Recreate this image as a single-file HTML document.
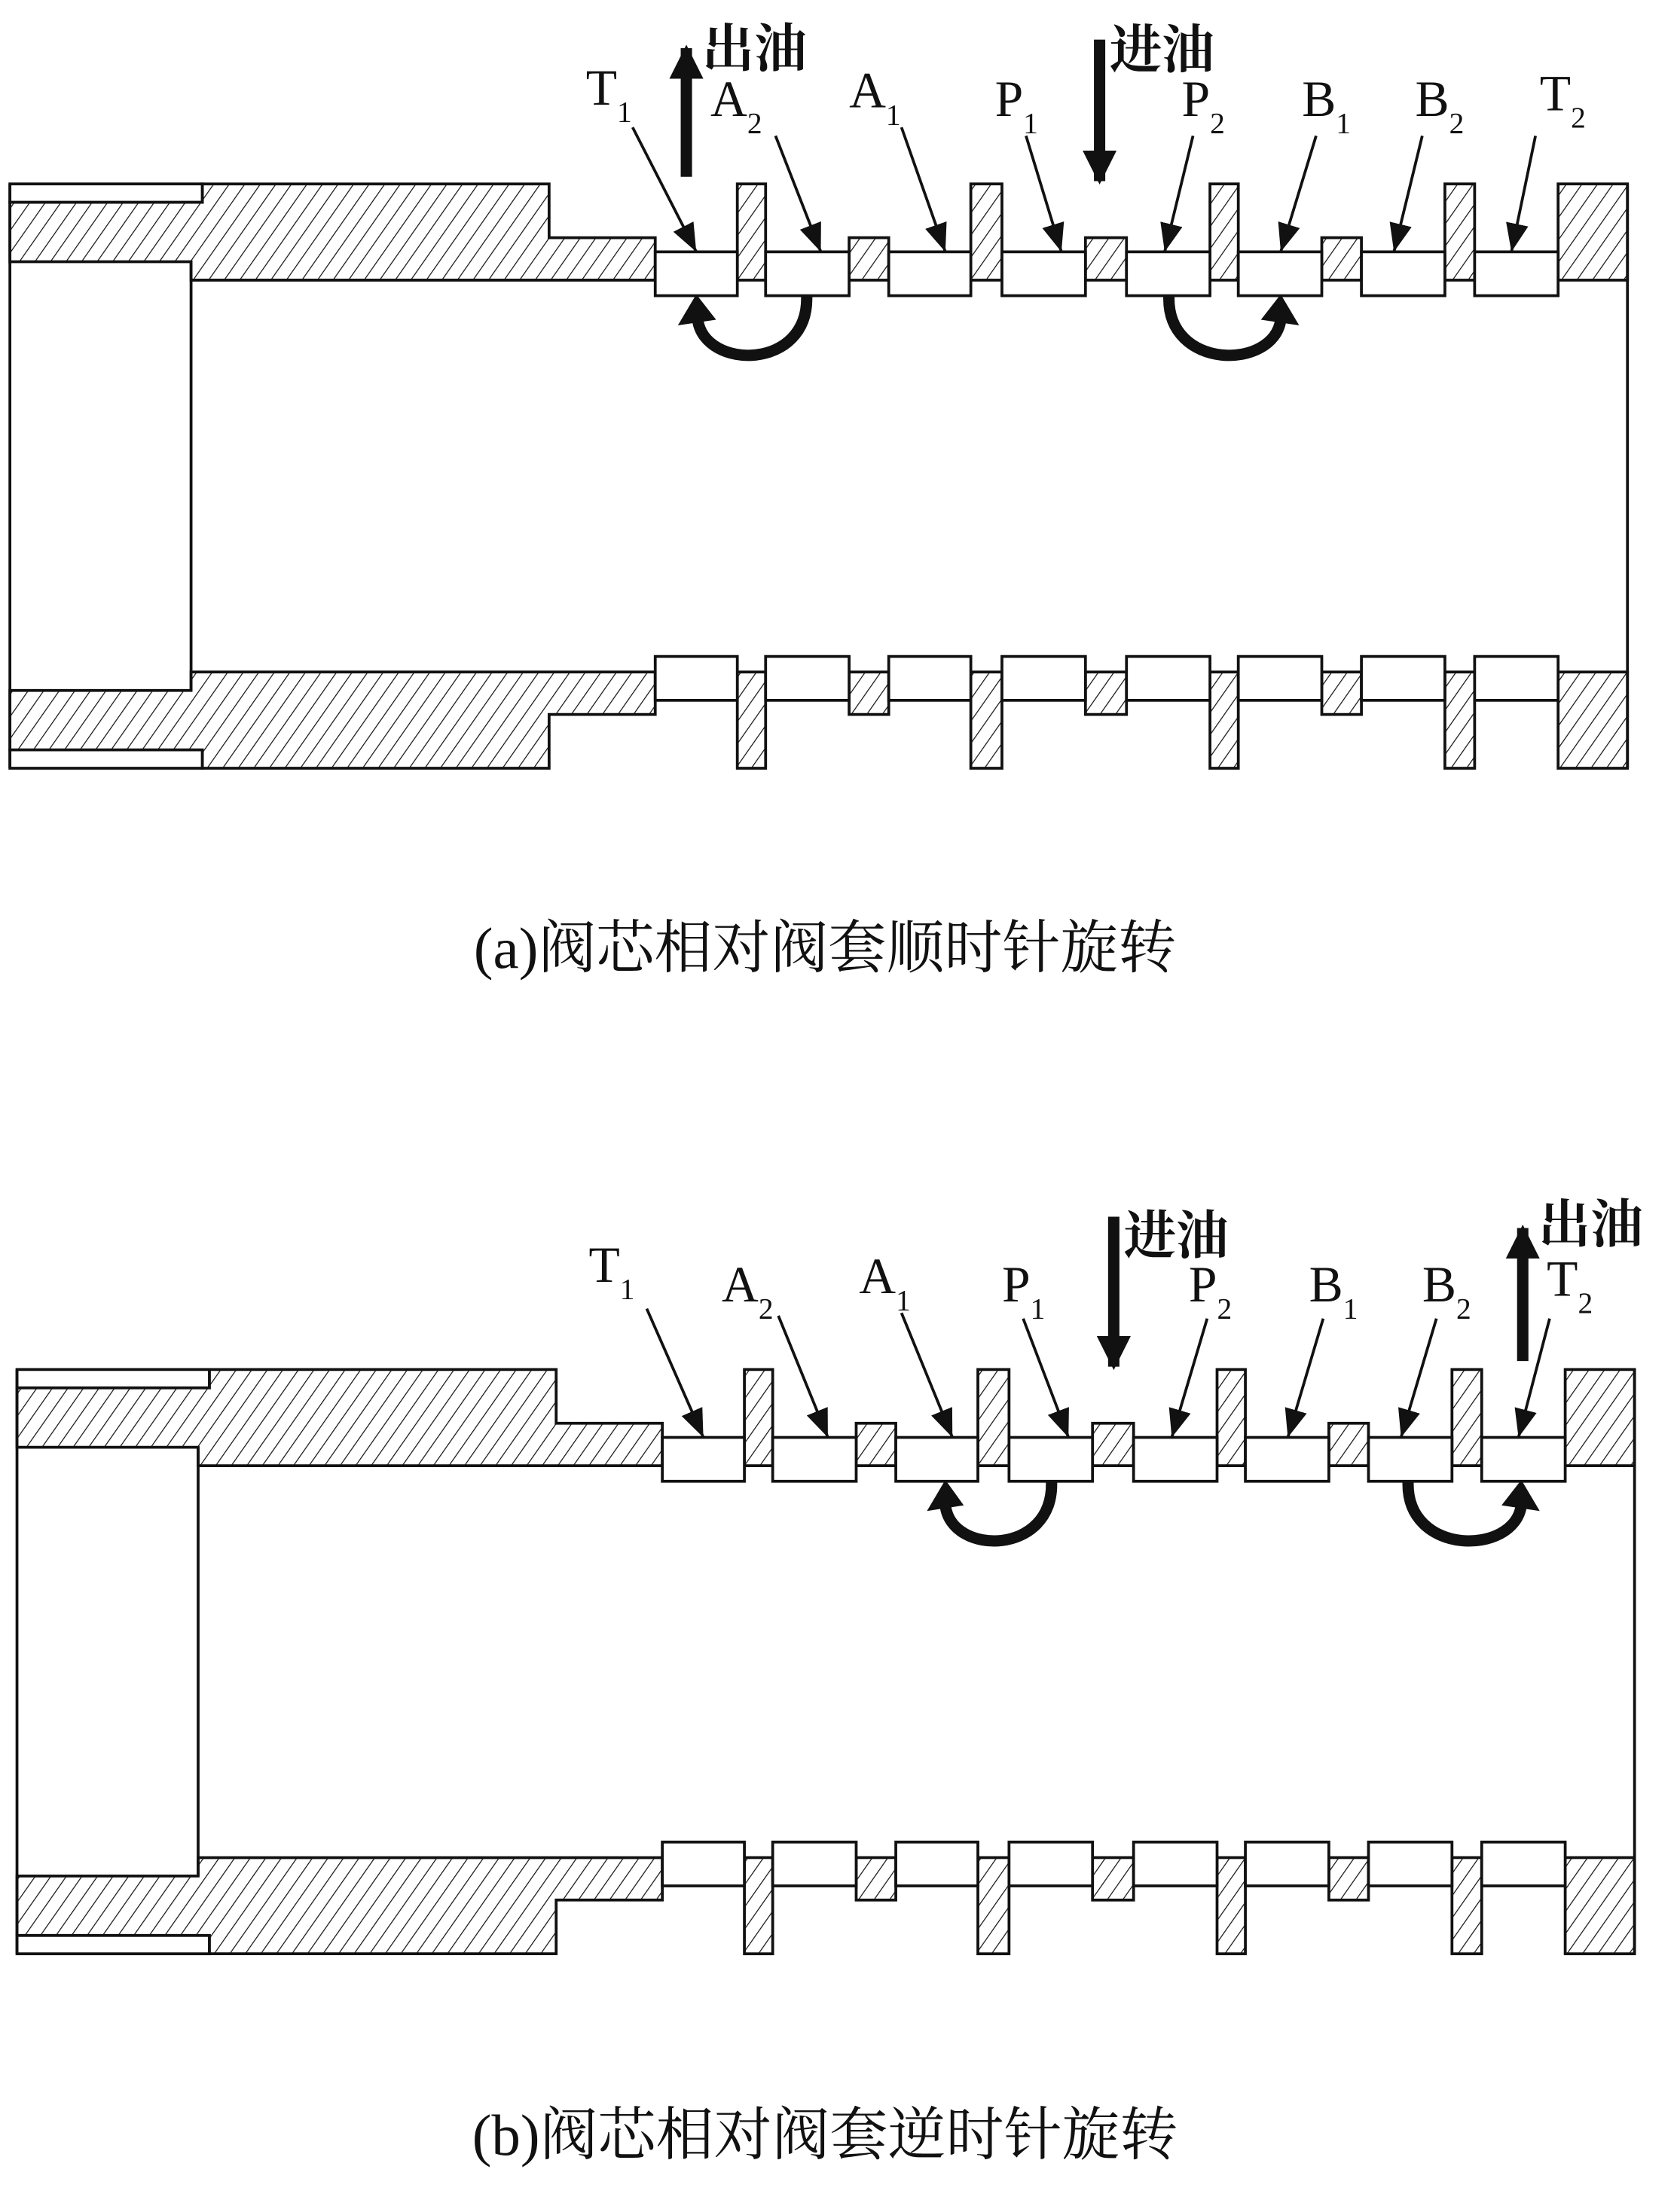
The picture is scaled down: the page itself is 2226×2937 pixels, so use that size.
<!DOCTYPE html>
<html><head><meta charset="utf-8"><style>html,body{margin:0;padding:0;background:#fff}svg{display:block}</style></head>
<body>
<svg xmlns="http://www.w3.org/2000/svg" width="2226" height="2937" viewBox="0 0 1185 1563.5">
<defs>
<pattern id="h" patternUnits="userSpaceOnUse" width="9" height="9" patternTransform="rotate(35)">
<rect width="9" height="9" fill="#fff"/><line x1="0" y1="0" x2="0" y2="9" stroke="#111" stroke-width="1.3"/>
</pattern>
<pattern id="h2" patternUnits="userSpaceOnUse" width="9" height="9" patternTransform="rotate(-35)">
<rect width="9" height="9" fill="#fff"/><line x1="0" y1="0" x2="0" y2="9" stroke="#111" stroke-width="1.3"/>
</pattern>
<g id="half" stroke="#111" stroke-width="2" stroke-linejoin="miter">
<rect x="7" y="130" width="136" height="13" fill="#fff"/>
<polygon points="7,143 143,143 143,130 388,130 388,168 463,168 463,198 135,198 135,185 7,185"/>
<rect x="521" y="130" width="20" height="68"/>
<rect x="686" y="130" width="22" height="68"/>
<rect x="855" y="130" width="20" height="68"/>
<rect x="1021" y="130" width="21" height="68"/>
<rect x="1101" y="130" width="49" height="68"/>
<rect x="600" y="168" width="28" height="30"/>
<rect x="767" y="168" width="29" height="30"/>
<rect x="934" y="168" width="28" height="30"/>
<g fill="#fff">
<rect x="463" y="178" width="58" height="31"/>
<rect x="541" y="178" width="59" height="31"/>
<rect x="628" y="178" width="58" height="31"/>
<rect x="708" y="178" width="59" height="31"/>
<rect x="796" y="178" width="59" height="31"/>
<rect x="875" y="178" width="59" height="31"/>
<rect x="962" y="178" width="59" height="31"/>
<rect x="1042" y="178" width="59" height="31"/>
</g>
</g>
<g id="body">
<use href="#half" fill="url(#h)"/>
<use href="#half" fill="url(#h2)" transform="translate(0,673) scale(1,-1)"/>
<g stroke="#111" stroke-width="2" fill="none">
<line x1="7" y1="130" x2="7" y2="543"/>
<line x1="135" y1="185" x2="135" y2="488"/>
<line x1="1150" y1="130" x2="1150" y2="543"/>
</g>
</g>
<marker id="ah" viewBox="0 0 10 10" refX="10" refY="5" markerWidth="20" markerHeight="20" markerUnits="userSpaceOnUse" orient="auto"><path d="M0,1 L10,5 L0,9 z" fill="#111"/></marker>
<marker id="big" viewBox="0 0 10 10" refX="9" refY="5" markerWidth="3" markerHeight="3" orient="auto"><path d="M0,0 L10,5 L0,10 z" fill="#111"/></marker>
</defs>
<g font-family="Liberation Serif, serif" fill="#111">
<!-- (a) -->
<use href="#body"/>
<g stroke="#111" stroke-width="2" marker-end="url(#ah)">
<line x1="447" y1="90" x2="492" y2="178"/>
<line x1="548" y1="96" x2="580" y2="178"/>
<line x1="637" y1="90" x2="668" y2="178"/>
<line x1="725" y1="96" x2="750" y2="178"/>
<line x1="843" y1="96" x2="823" y2="178"/>
<line x1="930" y1="96" x2="905" y2="178"/>
<line x1="1005" y1="96" x2="985" y2="178"/>
<line x1="1085" y1="96" x2="1068" y2="178"/>
</g>
<g font-size="36">
<text x="414" y="74">T<tspan font-size="21" dy="12">1</tspan></text>
<text x="502" y="82">A<tspan font-size="21" dy="12">2</tspan></text>
<text x="600" y="76">A<tspan font-size="21" dy="12">1</tspan></text>
<text x="703" y="82">P<tspan font-size="21" dy="12">1</tspan></text>
<text x="835" y="82">P<tspan font-size="21" dy="12">2</tspan></text>
<text x="920" y="82">B<tspan font-size="21" dy="12">1</tspan></text>
<text x="1000" y="82">B<tspan font-size="21" dy="12">2</tspan></text>
<text x="1088" y="78">T<tspan font-size="21" dy="12">2</tspan></text>
</g>
<line x1="485" y1="125" x2="485" y2="34" stroke="#111" stroke-width="8" marker-end="url(#big)"/>
<line x1="777" y1="28" x2="777" y2="128" stroke="#111" stroke-width="8" marker-end="url(#big)"/>
<g font-family="Noto Serif CJK SC, Noto Sans CJK SC, serif" font-size="37" font-weight="bold">
<text x="496" y="47">出油</text><text x="784" y="48">进油</text>
</g>
<g fill="none" stroke="#111" stroke-width="8">
<path d="M570,209 C572,262 498,262 493,226"/>
<path d="M826,209 C824,262 900,262 905,226"/>
</g>
<polygon points="479,230 506,226 492,208" fill="#111"/>
<polygon points="891,226 918,230 905,208" fill="#111"/>
<text x="583" y="684" text-anchor="middle" font-size="41" font-family="Liberation Serif, Noto Serif CJK SC, serif">(a)阀芯相对阀套顺时针旋转</text>

<!-- (b) -->
<use href="#body" transform="translate(5,838)"/>
<g stroke="#111" stroke-width="2" marker-end="url(#ah)">
<line x1="457" y1="925" x2="497" y2="1016"/>
<line x1="550" y1="930" x2="585" y2="1016"/>
<line x1="637" y1="928" x2="673" y2="1016"/>
<line x1="723" y1="932" x2="755" y2="1016"/>
<line x1="853" y1="932" x2="828" y2="1016"/>
<line x1="935" y1="932" x2="910" y2="1016"/>
<line x1="1015" y1="932" x2="990" y2="1016"/>
<line x1="1095" y1="932" x2="1073" y2="1016"/>
</g>
<g font-size="36">
<text x="416" y="906">T<tspan font-size="21" dy="12">1</tspan></text>
<text x="510" y="920">A<tspan font-size="21" dy="12">2</tspan></text>
<text x="607" y="914">A<tspan font-size="21" dy="12">1</tspan></text>
<text x="708" y="920">P<tspan font-size="21" dy="12">1</tspan></text>
<text x="840" y="920">P<tspan font-size="21" dy="12">2</tspan></text>
<text x="925" y="920">B<tspan font-size="21" dy="12">1</tspan></text>
<text x="1005" y="920">B<tspan font-size="21" dy="12">2</tspan></text>
<text x="1093" y="916">T<tspan font-size="21" dy="12">2</tspan></text>
</g>
<line x1="787" y1="860" x2="787" y2="966" stroke="#111" stroke-width="8" marker-end="url(#big)"/>
<line x1="1076" y1="962" x2="1076" y2="868" stroke="#111" stroke-width="8" marker-end="url(#big)"/>
<g font-family="Noto Serif CJK SC, Noto Sans CJK SC, serif" font-size="37" font-weight="bold">
<text x="794" y="886">进油</text><text x="1087" y="878">出油</text>
</g>
<g fill="none" stroke="#111" stroke-width="8">
<path d="M743,1047 C745,1100 672,1100 668,1064"/>
<path d="M995,1047 C993,1100 1070,1100 1075,1064"/>
</g>
<polygon points="655,1068 681,1064 668,1046" fill="#111"/>
<polygon points="1061,1064 1088,1068 1075,1046" fill="#111"/>
<text x="583" y="1523" text-anchor="middle" font-size="41" font-family="Liberation Serif, Noto Serif CJK SC, serif">(b)阀芯相对阀套逆时针旋转</text>
</g>
</svg>
</body></html>
